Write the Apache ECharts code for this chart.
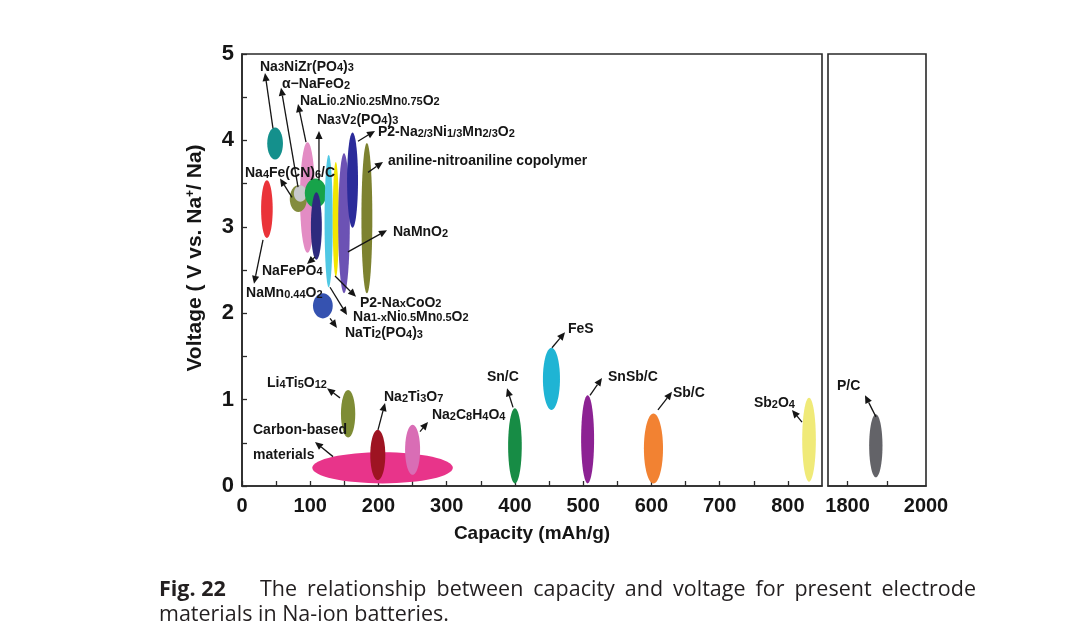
<!DOCTYPE html>
<html><head><meta charset="utf-8">
<script src="https://cdn.jsdelivr.net/npm/echarts@6/dist/echarts.min.js"></script>
<style>html,body{margin:0;padding:0;background:#fff}#c{width:1080px;height:641px}</style>
</head><body><div id="c"></div>
<script>
// ---------- data ----------
const materialNames = ['Na3NiZr(PO4)3','NaMn0.44O2','NaLi0.2Ni0.25Mn0.75O2','Na4Fe(CN)6/C','α-NaFeO2','Na3V2(PO4)3','NaFePO4','Na1-xNi0.5Mn0.5O2','P2-NaxCoO2','NaMnO2','P2-Na2/3Ni1/3Mn2/3O2','aniline-nitroaniline copolymer','NaTi2(PO4)3','Carbon-based materials','Li4Ti5O12','Na2Ti3O7','Na2C8H4O4','Sn/C','FeS','SnSb/C','Sb/C','Sb2O4','P/C'];
const capacityLow  = [37, 28, 85, 70, 76, 92, 101, 121, 133, 141, 154, 175, 104, 103, 145, 188, 239, 390, 441, 497, 589, 821, 1855];
const capacityHigh = [60, 45, 107, 95, 95, 124, 117, 133, 142, 158, 170, 191, 133, 309, 166, 210, 261, 410, 466, 516, 617, 841, 1889];
const voltageLow   = [3.78, 2.87, 2.70, 3.17, 3.29, 3.22, 2.62, 2.30, 2.42, 2.23, 2.99, 2.23, 1.94, 0.03, 0.56, 0.07, 0.13, 0.03, 0.88, 0.03, 0.03, 0.05, 0.10];
const voltageHigh  = [4.15, 3.54, 3.98, 3.48, 3.48, 3.56, 3.40, 3.83, 3.75, 3.85, 4.09, 3.97, 2.23, 0.39, 1.11, 0.65, 0.71, 0.90, 1.60, 1.05, 0.84, 1.02, 0.83];
const materialColors = ['#14908c','#ea3339','#e38cc4','#838c3e','#c9c9cc','#17a34a','#2d2a7e','#4fc8e4','#f2e600','#6c52b4','#2b2b9a','#7d8230','#3552b0','#e8348a','#7e8c35','#9e1422','#d96db5','#178c45','#1fb4d4','#8c2293','#f28232','#f0ea78','#636368'];

// annotation labels (data coordinates)
const labelText = ['Na{s|3}NiZr(PO{s|4}){s|3}','α−NaFeO{s|2}','NaLi{s|0.2}Ni{s|0.25}Mn{s|0.75}O{s|2}','Na{s|3}V{s|2}(PO{s|4}){s|3}','P2-Na{s|2/3}Ni{s|1/3}Mn{s|2/3}O{s|2}','aniline-nitroaniline copolymer','Na{s|4}Fe(CN){s|6}/C','NaFePO{s|4}','NaMn{s|0.44}O{s|2}','NaMnO{s|2}','P2-Na{s|x}CoO{s|2}','Na{s|1-x}Ni{s|0.5}Mn{s|0.5}O{s|2}','NaTi{s|2}(PO{s|4}){s|3}','Li{s|4}Ti{s|5}O{s|12}','Carbon-based\nmaterials','Na{s|2}Ti{s|3}O{s|7}','Na{s|2}C{s|8}H{s|4}O{s|4}','Sn/C','FeS','SnSb/C','Sb/C','Sb{s|2}O{s|4}','P/C'];
const labelCap  = [26.4, 58.6, 85, 109.9, 199.3, 214, 4.4, 29.3, 5.9, 221.3, 172.9, 162.7, 150.9, 36.6, 16.1, 208.1, 278.4, 359, 477.8, 536.4, 631.6, 750.3, 1773];
const labelVolt = [4.85, 4.65, 4.46, 4.24, 4.09, 3.76, 3.62, 2.49, 2.23, 2.94, 2.12, 1.96, 1.77, 1.19, 0.50, 1.03, 0.82, 1.26, 1.82, 1.26, 1.08, 0.96, 1.15];
const arrowFrom = [[45.4,4.14],[82.1,3.46],[93.8,3.98],[112.8,3.54],[170,3.99],[184.7,3.63],[73.3,3.34],[107,2.65],[30.8,2.85],[155.3,2.71],[136.3,2.43],[129,2.30],[129,1.94],[143.6,1.02],[133.4,0.34],[199.3,0.65],[260.9,0.63],[397.2,0.91],[454.3,1.60],[510,1.05],[609.6,0.88],[820.7,0.74],[1872.4,0.80]];
const arrowTo   = [[33.7,4.78],[57.2,4.61],[82.1,4.42],[112.8,4.11],[194.9,4.11],[206.6,3.75],[55.7,3.56],[95.3,2.57],[17.6,2.34],[212.5,2.96],[167.1,2.19],[153.9,1.98],[139.2,1.83],[124.6,1.13],[107,0.51],[209.6,0.96],[272.6,0.74],[388.4,1.13],[473.4,1.78],[527.6,1.25],[630.2,1.09],[806,0.88],[1844.4,1.05]];

const xRangeMain = [0, 850];
const xRangeBreak = [1750, 2000];
const xTicksBreak = [1800, 1900];
const xLabelsBreak = [1800, 2000];

const captionBold = 'Fig. 22';
const captionLine1 = 'The relationship between capacity and voltage for present electrode';
const captionLine2 = 'materials in Na-ion batteries.';

// ---------- chart ----------
const FONT = 'Liberation Sans';
const INK = '#151515';
const chart = echarts.init(document.getElementById('c'), null, {renderer: 'canvas'});

function panelOf(c) { return c > 1000 ? 1 : 0; }

function ellipseData(panel) {
  const out = [];
  materialNames.forEach((n, i) => {
    if (panelOf(capacityLow[i]) !== panel) return;
    out.push({name: n, value: [capacityLow[i], capacityHigh[i], voltageLow[i], voltageHigh[i]], itemStyle: {color: materialColors[i]}});
  });
  return out;
}
function annData(panel) {
  const out = [];
  labelText.forEach((t, i) => {
    if (panelOf(labelCap[i]) !== panel) return;
    out.push({value: [labelCap[i], labelVolt[i], i]});
  });
  return out;
}

function renderEllipse(params, api) {
  const a = api.coord([api.value(0), api.value(3)]);
  const b = api.coord([api.value(1), api.value(2)]);
  return {
    type: 'ellipse',
    shape: {cx: (a[0] + b[0]) / 2, cy: (a[1] + b[1]) / 2, rx: Math.abs(b[0] - a[0]) / 2, ry: Math.abs(b[1] - a[1]) / 2},
    style: {fill: api.visual('color')}
  };
}

const richStyles = {
  s: {fontSize: 11, fontWeight: 'bold', fontFamily: FONT, fill: INK, verticalAlign: 'bottom'}
};

function renderAnn(params, api) {
  const i = api.value(2);
  const p = api.coord([api.value(0), api.value(1)]);
  const f = api.coord(arrowFrom[i]);
  const t = api.coord(arrowTo[i]);
  const ang = Math.atan2(t[1] - f[1], t[0] - f[0]);
  const hl = 8, hw = 3.6;
  const bx = t[0] - hl * Math.cos(ang), by = t[1] - hl * Math.sin(ang);
  const nx = -Math.sin(ang), ny = Math.cos(ang);
  const multi = labelText[i].indexOf('\n') >= 0;
  const st = {
    text: labelText[i], fontSize: 14, fontWeight: 'bold', fontFamily: FONT, fill: INK,
    align: 'left', verticalAlign: 'middle', rich: richStyles
  };
  if (multi) st.lineHeight = 25;
  return {
    type: 'group',
    children: [
      {type: 'line', shape: {x1: f[0], y1: f[1], x2: bx, y2: by}, style: {stroke: INK, lineWidth: 1.3}},
      {type: 'polygon', shape: {points: [[t[0], t[1]], [bx + nx * hw, by + ny * hw], [bx - nx * hw, by - ny * hw]]}, style: {fill: INK}},
      {type: 'text', x: p[0], y: p[1], style: st}
    ]
  };
}

const axisLineStyle = {color: '#2a2a2a', width: 1.6};
const tickStyle = {color: '#2a2a2a', width: 1.3};

const option = {
  animation: false,
  backgroundColor: '#ffffff',
  grid: [
    {left: 242, top: 54, width: 580, height: 432, show: true, borderColor: '#2a2a2a', borderWidth: 1.6, backgroundColor: 'transparent'},
    {left: 828, top: 54, width: 98, height: 432, show: true, borderColor: '#2a2a2a', borderWidth: 1.6, backgroundColor: 'transparent'}
  ],
  xAxis: [
    {
      gridIndex: 0, type: 'value', min: xRangeMain[0], max: xRangeMain[1], interval: 50,
      axisLine: {show: true, lineStyle: axisLineStyle},
      axisTick: {show: true, inside: true, length: 5, lineStyle: tickStyle},
      axisLabel: {
        margin: 10, color: INK, fontFamily: FONT, fontWeight: 'bold', fontSize: 20,
        showMaxLabel: false,
        formatter: v => (v % 100 === 0 && v <= 800) ? String(v) : ''
      },
      splitLine: {show: false},
      name: 'Capacity (mAh/g)', nameLocation: 'middle', nameGap: 38,
      nameTextStyle: {color: INK, fontFamily: FONT, fontWeight: 'bold', fontSize: 19}
    },
    {
      gridIndex: 1, type: 'value', min: xRangeBreak[0], max: xRangeBreak[1], interval: 50,
      axisLine: {show: true, lineStyle: axisLineStyle},
      axisTick: {show: true, inside: true, length: 5, lineStyle: tickStyle, customValues: xTicksBreak},
      axisLabel: {margin: 10, color: INK, fontFamily: FONT, fontWeight: 'bold', fontSize: 20,
        customValues: xLabelsBreak, formatter: v => String(v)},
      splitLine: {show: false}
    }
  ],
  yAxis: [
    {
      gridIndex: 0, type: 'value', min: 0, max: 5, interval: 0.5,
      axisLine: {show: true, lineStyle: axisLineStyle},
      axisTick: {show: true, inside: true, length: 5, lineStyle: tickStyle},
      axisLabel: {margin: 8, color: INK, fontFamily: FONT, fontWeight: 'bold', fontSize: 22,
        formatter: v => (Math.abs(v - Math.round(v)) < 1e-6) ? String(Math.round(v)) : ''},
      splitLine: {show: false},
      name: 'Voltage ( V vs. Na{sup|+}/ Na)', nameLocation: 'middle', nameRotate: 90, nameGap: 36,
      nameTextStyle: {color: INK, fontFamily: FONT, fontWeight: 'bold', fontSize: 21, padding: [0, 0, 0, 24],
        rich: {sup: {fontSize: 12, fontWeight: 'bold', fontFamily: FONT, color: INK, verticalAlign: 'top'}}}
    },
    {
      gridIndex: 1, type: 'value', min: 0, max: 5, interval: 0.5,
      axisLine: {show: false}, axisTick: {show: false}, axisLabel: {show: false}, splitLine: {show: false}
    }
  ],
  series: [
    {type: 'custom', xAxisIndex: 0, yAxisIndex: 0, renderItem: renderEllipse, data: ellipseData(0), encode: {x: [0, 1], y: [2, 3]}, silent: true, z: 2},
    {type: 'custom', xAxisIndex: 1, yAxisIndex: 1, renderItem: renderEllipse, data: ellipseData(1), encode: {x: [0, 1], y: [2, 3]}, silent: true, z: 2},
    {type: 'custom', xAxisIndex: 0, yAxisIndex: 0, renderItem: renderAnn, data: annData(0), encode: {x: 0, y: 1}, silent: true, z: 3},
    {type: 'custom', xAxisIndex: 1, yAxisIndex: 1, renderItem: renderAnn, data: annData(1), encode: {x: 0, y: 1}, silent: true, z: 3}
  ]
};

// ---------- caption (justified first line) ----------
const capSize = 22;
const mctx = document.createElement('canvas').getContext('2d');
function tw(font, s) { mctx.font = font; return mctx.measureText(s).width; }
const regFont = capSize + 'px "Open Sans"';
const capLeft = 159, line2Right = 449, line1TextLeft = 260, line1Right = 976;
const sx = (line2Right - capLeft) / tw(regFont, captionLine2);
const words = captionLine1.split(' ');
const wW = words.map(w => tw(regFont, w) * sx);
const gap = (line1Right - line1TextLeft - wW.reduce((a, b) => a + b, 0)) / (words.length - 1);
const capStyle = (txt, bold) => ({text: txt, fontSize: capSize, fontFamily: 'Open Sans', fontWeight: bold ? 'bold' : 'normal', fill: '#231f20', verticalAlign: 'middle', align: 'left'});
const line1Y = 590, line2Y = 615;
const graphics = [{type: 'text', x: capLeft, y: line1Y, scaleX: sx, style: capStyle(captionBold, true)}];
let cx = line1TextLeft;
words.forEach((w, k) => {
  graphics.push({type: 'text', x: cx, y: line1Y, scaleX: sx, style: capStyle(w, false)});
  cx += wW[k] + gap;
});
graphics.push({type: 'text', x: capLeft, y: line2Y, scaleX: sx, style: capStyle(captionLine2, false)});
option.graphic = graphics;

chart.setOption(option);
</script>
</body></html>
